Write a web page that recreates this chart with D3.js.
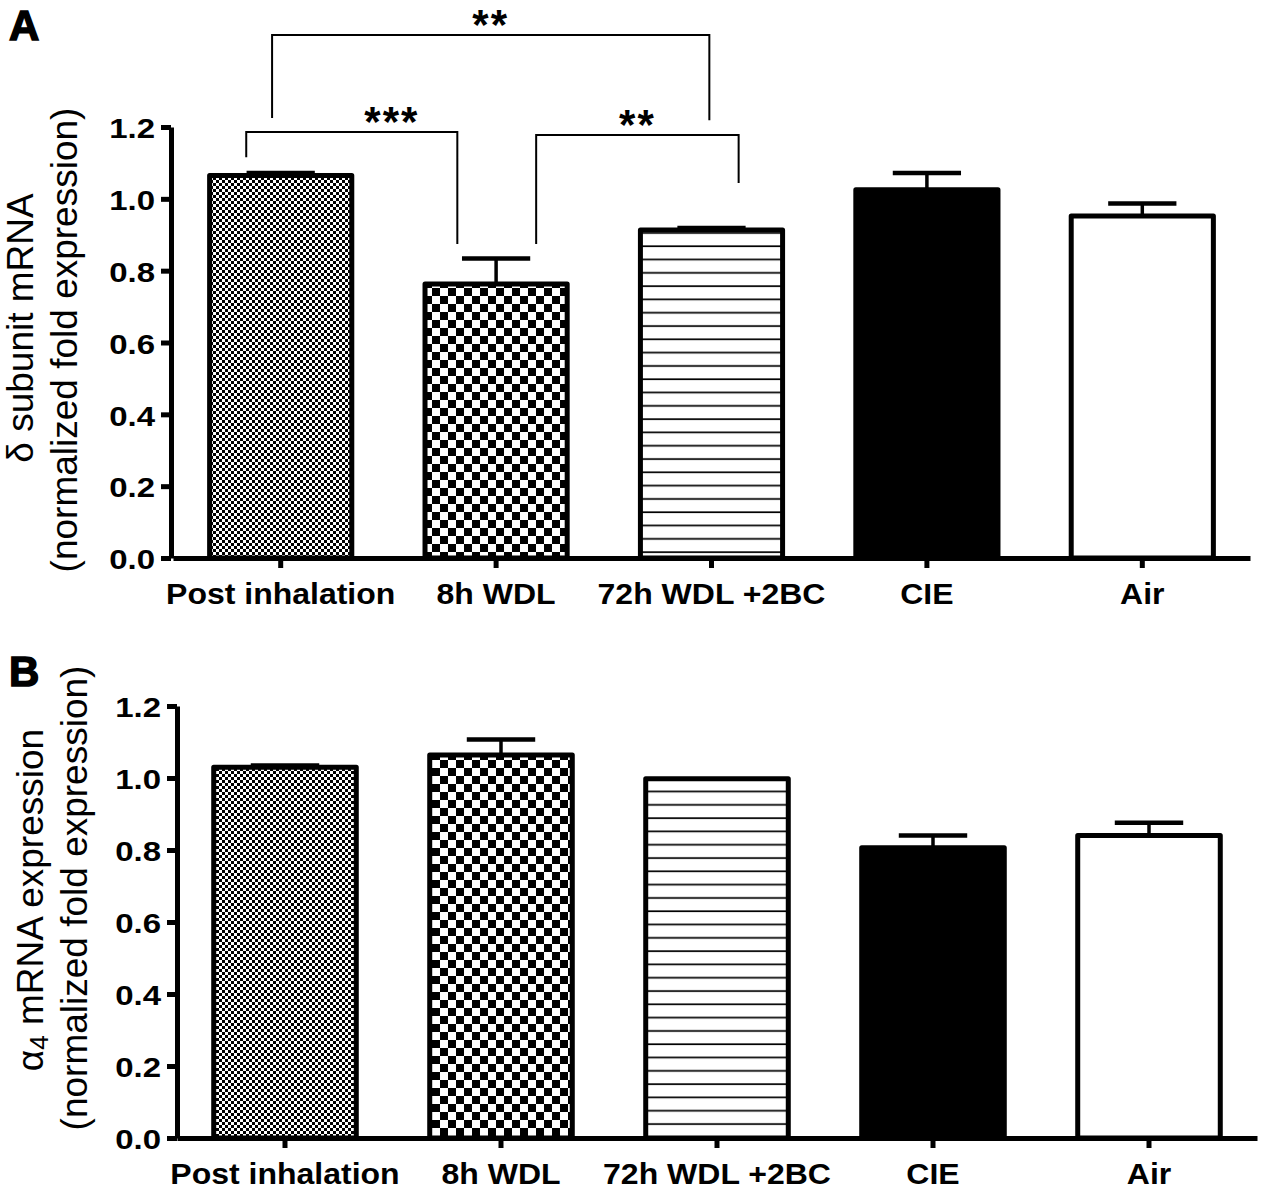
<!DOCTYPE html>
<html lang="en">
<head>
<meta charset="utf-8">
<title>delta and alpha4 subunit mRNA</title>
<script src="https://cdn.jsdelivr.net/npm/d3@7"></script>
<style type="text/css">
  body { margin: 0; background: #fff; }
  svg { font-family: "Liberation Sans", Arial, sans-serif; }
  .axis path, .axis line { stroke: #000; stroke-width: 5px; }
  .axis text { font-weight: bold; fill: #000; }
</style>
</head>
<body>
<script type="text/javascript">

// data
var categories = ["Post inhalation", "8h WDL", "72h WDL +2BC", "CIE", "Air"];

// panel A : delta subunit
var deltaMeans = [1.065, 0.763, 0.913, 1.025, 0.952];
var deltaErrors = [0.007, 0.071, 0.006, 0.047, 0.035];

// panel B : alpha4 subunit
var alphaMeans = [1.030, 1.064, 0.998, 0.806, 0.840];
var alphaErrors = [0.005, 0.043, 0.0, 0.034, 0.036];

var yTicks = [0, 0.2, 0.4, 0.6, 0.8, 1.0, 1.2];

// significance brackets for panel A
var bracketPairs = [["Post inhalation", "72h WDL +2BC"], ["Post inhalation", "8h WDL"], ["8h WDL", "72h WDL +2BC"]];
var bracketLabels = ["**", "***", "**"];
var bracketTops = [1.456, 1.186, 1.178];
var bracketEnds = [[1.225, 1.219], [1.116, 0.874], [0.874, 1.044]];

//Create svg

var svg = d3.select("body")
            .append("svg")
            .attr("width", 1267)
            .attr("height", 1192);

//Fill patterns

var defs = svg.append("defs");

var fine = defs.append("pattern")
    .attr("id", "fineCheck")
    .attr("patternUnits", "userSpaceOnUse")
    .attr("width", 6).attr("height", 6);
fine.append("rect").attr("width", 6).attr("height", 6).attr("fill", "#fff");
fine.append("rect").attr("width", 3).attr("height", 3).attr("fill", "#000");
fine.append("rect").attr("x", 3).attr("y", 3).attr("width", 3).attr("height", 3).attr("fill", "#000");

var coarse = defs.append("pattern")
    .attr("id", "coarseCheck")
    .attr("patternUnits", "userSpaceOnUse")
    .attr("width", 16).attr("height", 16);
coarse.append("rect").attr("width", 16).attr("height", 16).attr("fill", "#fff");
coarse.append("rect").attr("width", 8).attr("height", 8).attr("fill", "#000");
coarse.append("rect").attr("x", 8).attr("y", 8).attr("width", 8).attr("height", 8).attr("fill", "#000");

var lines = defs.append("pattern")
    .attr("id", "hLines")
    .attr("patternUnits", "userSpaceOnUse")
    .attr("width", 10).attr("height", 13.3);
lines.append("rect").attr("width", 10).attr("height", 13.3).attr("fill", "#fff");
lines.append("rect").attr("y", 6).attr("width", 10).attr("height", 1.7).attr("fill", "#000");

var barFills = ["url(#fineCheck)", "url(#coarseCheck)", "url(#hLines)", "#000", "#fff"];

//Draw one panel

function drawPanel(means, errors, box, title) {

  var x = d3.scaleBand()
            .domain(categories)
            .range([box.left, box.right])
            .paddingInner(0.34)
            .paddingOuter(0.17);

  var y = d3.scaleLinear()
            .domain([0, 1.2])
            .range([box.bottom, box.top]);

  var g = svg.append("g");

  // bars
  g.selectAll("rect.bar")
   .data(categories)
   .enter()
   .append("rect")
   .attr("class", "bar")
   .attr("x", function(d) { return x(d); })
   .attr("y", function(d, i) { return y(means[i]); })
   .attr("width", x.bandwidth())
   .attr("height", function(d, i) { return y(0) - y(means[i]); })
   .attr("fill", function(d, i) { return barFills[i]; })
   .attr("stroke", "#000")
   .attr("stroke-width", 5)
   .attr("stroke-linejoin", "round");

  // error bars (upper only)
  var capW = x.bandwidth() * 0.48;
  categories.forEach(function(c, i) {
    if (errors[i] <= 0) return;
    var cx = x(c) + x.bandwidth() / 2;
    g.append("line")
     .attr("x1", cx).attr("x2", cx)
     .attr("y1", y(means[i])).attr("y2", y(means[i] + errors[i]))
     .attr("stroke", "#000").attr("stroke-width", 3.5);
    g.append("line")
     .attr("x1", cx - capW / 2).attr("x2", cx + capW / 2)
     .attr("y1", y(means[i] + errors[i])).attr("y2", y(means[i] + errors[i]))
     .attr("stroke", "#000").attr("stroke-width", 4.5);
  });

  // axes
  g.append("g")
   .attr("class", "axis")
   .attr("transform", "translate(" + box.axisX + ",0)")
   .call(d3.axisLeft(y).tickValues(yTicks).tickFormat(d3.format(".1f")).tickSize(10).tickSizeOuter(0).tickPadding(6))
   .selectAll("text")
   .attr("dy", "0.38em")
   .attr("transform", "scale(1,0.86)")
   .style("font-size", "33px");

  g.append("g")
   .attr("class", "axis")
   .attr("transform", "translate(0," + box.bottom + ")")
   .call(d3.axisBottom(x).tickSize(10).tickSizeOuter(0))
   .selectAll("text")
   .attr("dy", null)
   .attr("y", 46 / 0.92)
   .attr("transform", "scale(1,0.92)")
   .style("font-size", "32px");

  // y title, two lines
  var t = g.append("text")
           .attr("transform", "translate(" + title.x1 + "," + title.cy1 + ") rotate(-90)")
           .attr("text-anchor", "middle")
           .style("font-size", "37px");
  title.line1.forEach(function(part) {
    t.append("tspan")
     .attr("baseline-shift", part.sub ? "-20%" : null)
     .style("font-size", part.sub ? "26px" : null)
     .text(part.text);
  });

  g.append("text")
   .attr("transform", "translate(" + title.x2 + "," + title.cy2 + ") rotate(-90)")
   .attr("text-anchor", "middle")
   .style("font-size", "37px")
   .text("(normalized fold expression)");

  // panel letter
  g.append("text")
   .attr("x", 9)
   .attr("y", title.letterY)
   .style("font-size", "42px")
   .style("font-weight", "bold")
   .attr("stroke", "#000")
   .attr("stroke-width", 1.5)
   .text(title.letter);

  return {x: x, y: y, g: g};
}

var panelA = drawPanel(deltaMeans, deltaErrors,
  {left: 173, right: 1250, top: 127, bottom: 558, axisX: 171},
  {x1: 33, x2: 77, cy1: 328, cy2: 340, letter: "A", letterY: 40,
   line1: [{text: "\u03b4 subunit mRNA"}]});

var panelB = drawPanel(alphaMeans, alphaErrors,
  {left: 177, right: 1257, top: 706, bottom: 1138, axisX: 177},
  {x1: 43, x2: 87, cy1: 900, cy2: 898, letter: "B", letterY: 686,
   line1: [{text: "\u03b1"}, {text: "4", sub: true}, {text: " mRNA expression"}]});

//Significance brackets on panel A

var endShifts = [[-0.04, -0.01], [-0.16, -0.18], [0.186, 0.126]];
var labelAt = [0.5, 0.69, 0.5];

var xA = panelA.x, yA = panelA.y;
var step = xA.step();

bracketPairs.forEach(function(p, i) {
  var x1 = xA(p[0]) + xA.bandwidth() / 2 + endShifts[i][0] * step;
  var x2 = xA(p[1]) + xA.bandwidth() / 2 + endShifts[i][1] * step;
  var yt = yA(bracketTops[i]);
  panelA.g.append("path")
    .attr("d", "M" + x1 + "," + yA(bracketEnds[i][0]) + "V" + yt + "H" + x2 + "V" + yA(bracketEnds[i][1]))
    .attr("fill", "none")
    .attr("stroke", "#000")
    .attr("stroke-width", 2);
  panelA.g.append("text")
    .attr("x", x1 + (x2 - x1) * labelAt[i])
    .attr("y", yt + 4)
    .attr("text-anchor", "middle")
    .style("font-size", "42px")
    .style("font-weight", "bold")
    .style("letter-spacing", "2px")
    .text(bracketLabels[i]);
});

</script>
</body>
</html>
